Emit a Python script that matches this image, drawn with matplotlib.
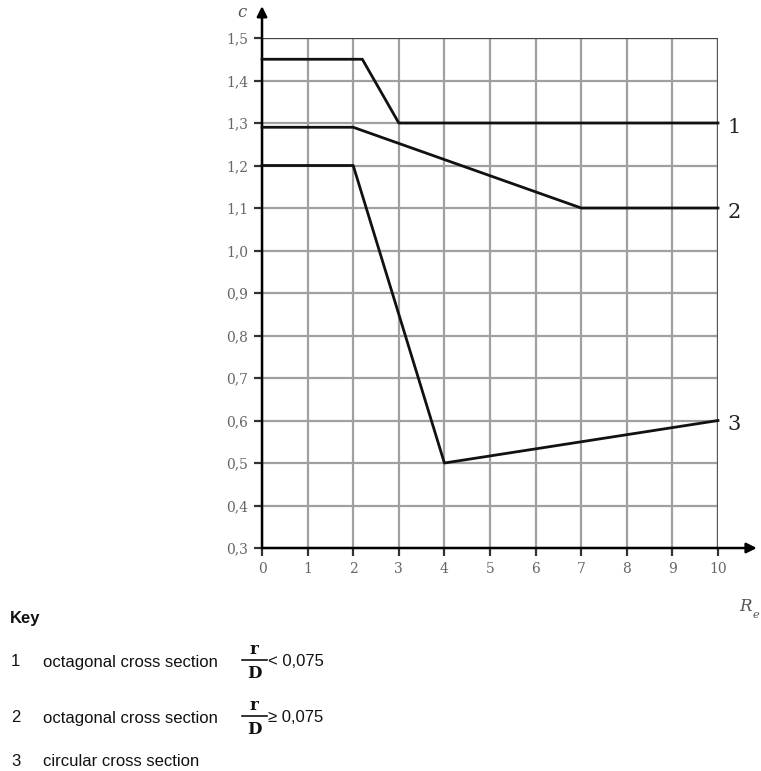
import matplotlib.pyplot as plt
from matplotlib.lines import Line2D

# curve data (Re, c)
re_1 = [0, 2.2, 3, 10]
c_1 = [1.45, 1.45, 1.3, 1.3]
re_2 = [0, 2, 7, 10]
c_2 = [1.29, 1.29, 1.1, 1.1]
re_3 = [0, 2, 4, 10]
c_3 = [1.2, 1.2, 0.5, 0.6]
curve_labels = ["1", "2", "3"]

x_ticks = list(range(0, 11))
y_ticks = [0.3, 0.4, 0.5, 0.6, 0.7, 0.8, 0.9, 1.0, 1.1, 1.2, 1.3, 1.4, 1.5]

key_numbers = ["1", "2", "3"]
key_texts = ["octagonal cross section", "octagonal cross section", "circular cross section"]
key_ratios = ["< 0,075", "\u2265 0,075", None]

serif = "DejaVu Serif"
sans = "Liberation Sans"

fig = plt.figure(figsize=(7.61, 7.71), dpi=100)
ax = fig.add_axes([0.3443, 0.2892, 0.5992, 0.6615])
ax.set_xlim(0, 10)
ax.set_ylim(0.3, 1.5)

# grid
for xv in x_ticks:
    ax.axvline(xv, color="#a0a0a0", lw=1.6, zorder=1)
for yv in y_ticks:
    ax.axhline(yv, color="#a0a0a0", lw=1.6, zorder=1)
ax.axvline(10, color="#555555", lw=1.6, zorder=1)
ax.axhline(1.5, color="#444444", lw=1.6, zorder=1)

for s in ax.spines.values():
    s.set_visible(False)

ax.set_xticks(x_ticks)
ax.set_xticklabels([str(v) for v in x_ticks], fontfamily=serif, color="#666666", fontsize=10)
ax.set_yticks(y_ticks)
ax.set_yticklabels([f"{v:.1f}".replace(".", ",") for v in y_ticks],
                   fontfamily=serif, color="#666666", fontsize=10)
ax.tick_params(length=6, width=1.6, color="#333333", pad=4)

# axes with arrows
ax.annotate("", xy=(10.85, 0.3), xytext=(0, 0.3), annotation_clip=False,
            arrowprops=dict(arrowstyle="-|>", color="black", lw=1.8,
                            mutation_scale=15, shrinkA=0, shrinkB=0))
ax.annotate("", xy=(0, 1.575), xytext=(0, 0.3), annotation_clip=False,
            arrowprops=dict(arrowstyle="-|>", color="black", lw=1.8,
                            mutation_scale=15, shrinkA=0, shrinkB=0))

# curves
for xs, ys, lab in zip([re_1, re_2, re_3], [c_1, c_2, c_3], curve_labels):
    ax.plot(xs, ys, color="#111111", lw=2, zorder=3, clip_on=False)
    ax.text(xs[-1] + 0.2, ys[-1] - 0.01, lab, fontfamily=serif, fontsize=15,
            va="center", ha="left", color="#222222")

ax.text(-0.45, 1.56, "c", fontfamily=serif, style="italic", fontsize=12,
        color="#555555", ha="center", va="center")
ax.text(10.61, 0.162, "R", fontfamily=serif, style="italic", fontsize=12,
        color="#555555", ha="center", va="center")
ax.text(10.83, 0.142, "e", fontfamily=serif, style="italic", fontsize=8,
        color="#555555", ha="center", va="center")

# key
fig.text(10 / 761, 1 - 618 / 771, "Key", fontfamily=sans, fontweight="bold",
         fontsize=12, va="center", color="#111111")
key_y = [662, 718, 762]
for num, txt, ratio, yp in zip(key_numbers, key_texts, key_ratios, key_y):
    yf = 1 - yp / 771
    fig.text(11 / 761, yf, num, fontfamily=sans, fontsize=12, va="center", color="#111111")
    fig.text(43 / 761, yf, txt, fontfamily=sans, fontsize=12, va="center", color="#111111")
    if ratio is not None:
        xc = 254 / 761
        yc = 1 - (yp - 2) / 771
        fig.text(xc, yc + 11 / 771, "r", fontfamily=serif, fontweight="bold",
                 fontsize=12, ha="center", va="center", color="#111111")
        fig.text(xc, yc - 13 / 771, "D", fontfamily=serif, fontweight="bold",
                 fontsize=12, ha="center", va="center", color="#111111")
        fig.add_artist(Line2D([242 / 761, 267 / 761], [yc, yc], color="#111111",
                              lw=1.2, transform=fig.transFigure))
        fig.text(268 / 761, yf, ratio, fontfamily=sans, fontsize=12,
                 va="center", color="#111111")

fig.savefig("out.png", dpi=100)
